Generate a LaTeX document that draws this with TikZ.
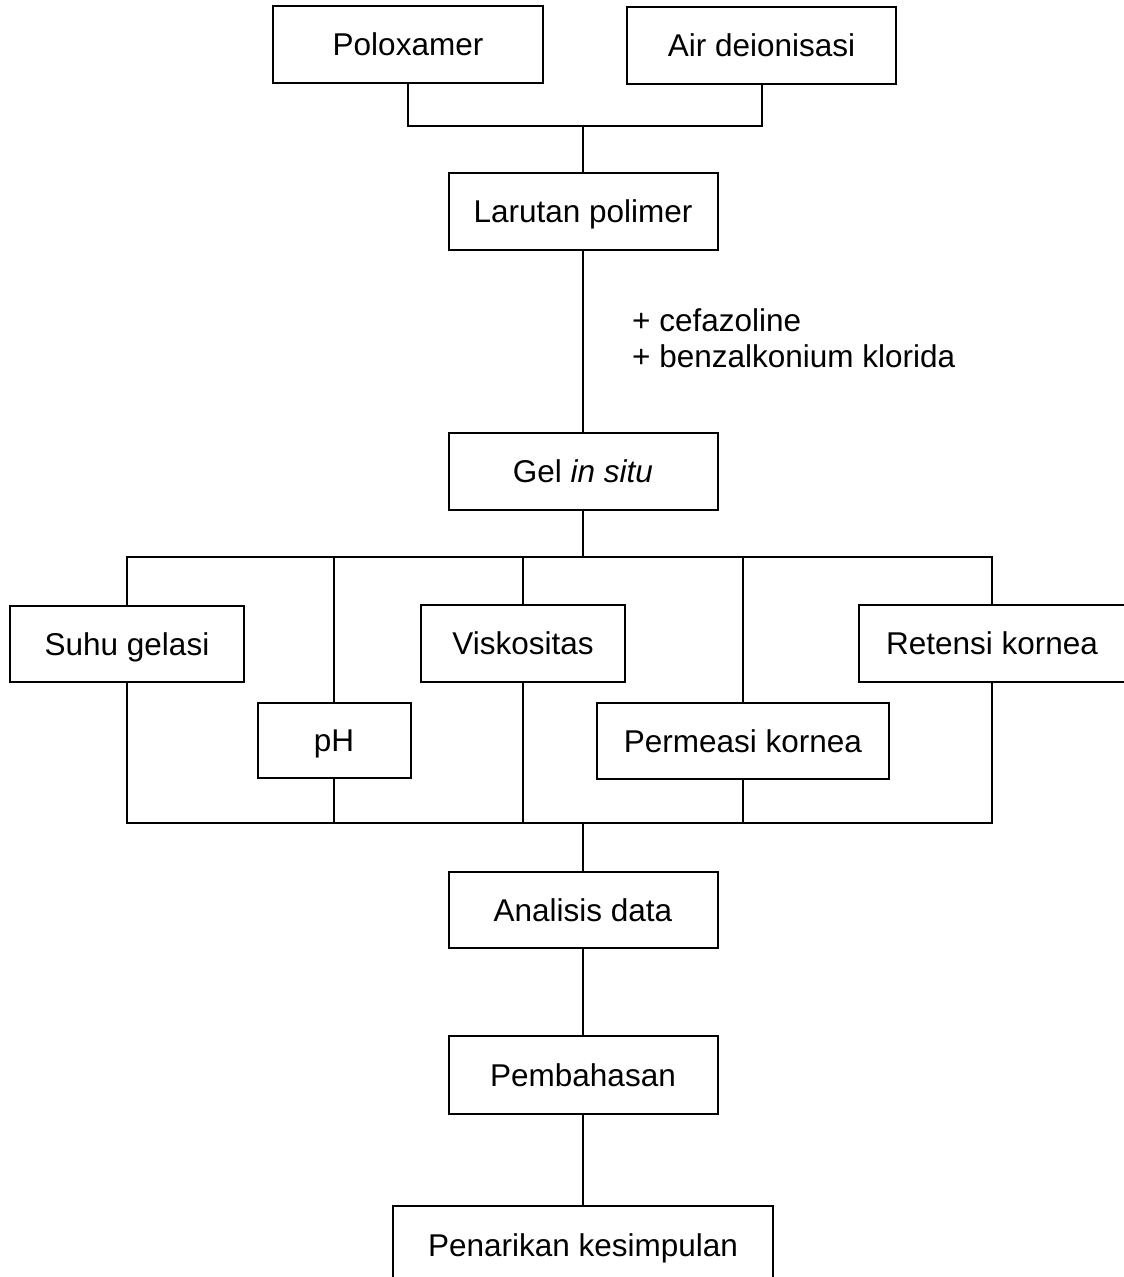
\documentclass[tikz,border=0pt]{standalone}
\usepackage{fontspec}
\setmainfont{Liberation Sans}
\begin{document}
\begin{tikzpicture}[x=1pt,y=-1pt,
  box/.style={draw,line width=2pt,inner sep=0pt,minimum height=77pt,text height=22.5pt,text depth=0pt,font=\fontsize{31.5}{37}\selectfont},
  conn/.style={line width=2pt},
  lbl/.style={inner sep=0pt,anchor=base west,font=\fontsize{31.5}{37}\selectfont}]
\clip (0,0) rectangle (1124,1277);
\useasboundingbox (0,0) rectangle (1124,1277);
% boxes
\node[box,minimum width=270pt] (polo) at (408,44.5) {Poloxamer};
\node[box,minimum width=269pt] (air) at (761.5,45) {Air deionisasi};
\node[box,minimum width=269pt] (lar) at (583,211.5) {Larutan polimer};
\node[box,minimum width=269pt] (gel) at (583,471.5) {Gel \textit{in situ}};
\node[box,minimum width=234pt,minimum height=76pt] (suhu) at (127,644) {Suhu gelasi};
\node[box,minimum width=153pt,minimum height=75pt] (ph) at (334,740.5) {pH};
\node[box,minimum width=204pt] (visk) at (523,643.5) {Viskositas};
\node[box,minimum width=292pt,minimum height=76pt] (perm) at (743,741) {Permeasi kornea};
\node[box,minimum width=266pt] (ret) at (992,643.5) {Retensi kornea};
\node[box,minimum width=269pt,minimum height=76pt] (anal) at (583,910) {Analisis data};
\node[box,minimum width=269pt,minimum height=78pt] (pemb) at (583,1075) {Pembahasan};
\node[box,minimum width=380pt,minimum height=78pt] (pen) at (583,1245) {Penarikan kesimpulan};
% annotation
\node[lbl] (add1) at (632,331) {+ cefazoline};
\node[lbl] (add2) at (632,367) {+ benzalkonium klorida};
% junction coordinates
\coordinate (j1) at (583,126);
\coordinate (tb) at (583,557);
\coordinate (bb) at (583,823);
% connectors
\draw[conn] (polo.south) -- (polo.south |- j1) -- (air.south |- j1) -- (air.south);
\draw[conn] (j1) -- (lar.north);
\draw[conn] (lar.south) -- (gel.north);
\draw[conn] (gel.south) -- (tb);
\draw[conn] (suhu.north) -- (suhu.north |- tb) -- (ret.north |- tb) -- (ret.north);
\draw[conn] (ph.north) -- (ph.north |- tb);
\draw[conn] (visk.north) -- (visk.north |- tb);
\draw[conn] (perm.north) -- (perm.north |- tb);
\draw[conn] (suhu.south) -- (suhu.south |- bb) -- (ret.south |- bb) -- (ret.south);
\draw[conn] (ph.south) -- (ph.south |- bb);
\draw[conn] (visk.south) -- (visk.south |- bb);
\draw[conn] (perm.south) -- (perm.south |- bb);
\draw[conn] (bb) -- (anal.north);
\draw[conn] (anal.south) -- (pemb.north);
\draw[conn] (pemb.south) -- (pen.north);
\end{tikzpicture}
\end{document}
